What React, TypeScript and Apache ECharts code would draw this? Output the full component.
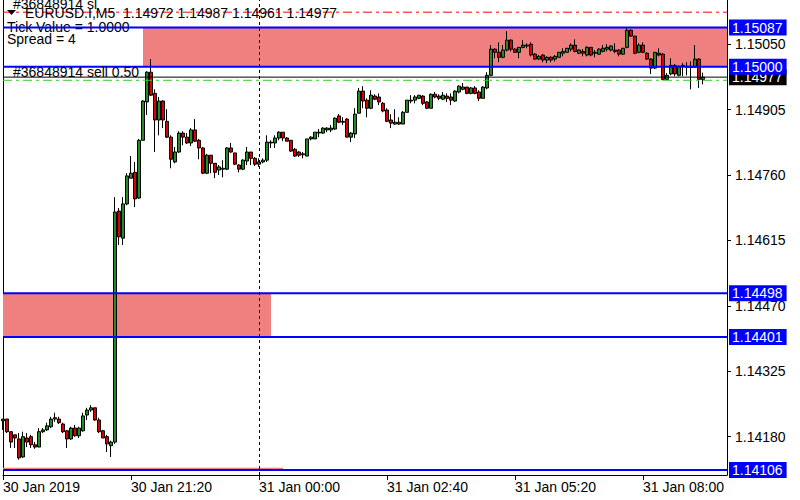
import React, { useEffect, useRef } from "react";
import * as echarts from "echarts";

// ---- data (EURUSD M5, 30 Jan 18:40 .. 31 Jan 09:15) ----
const opens = [
  1.14215,1.14219,1.14191,1.14184,1.14175,1.14135,1.14177,1.14180,1.14162,1.14157,
  1.14191,1.14195,1.14202,1.14219,1.14219,1.14208,1.14193,1.14175,1.14199,1.14182,
  1.14193,1.14228,1.14239,1.14244,1.14217,1.14193,1.14180,1.14160,1.14168,1.14680,
  1.14620,1.14696,1.14753,1.14766,1.14709,1.14837,1.14922,1.14988,1.14941,1.14882,
  1.14924,1.14879,1.14844,1.14789,1.14811,1.14853,1.14844,1.14831,1.14860,1.14837,
  1.14820,1.14764,1.14804,1.14786,1.14771,1.14773,1.14773,1.14820,1.14809,1.14782,
  1.14773,1.14791,1.14811,1.14797,1.14784,1.14789,1.14793,1.14831,1.14831,1.14842,
  1.14855,1.14842,1.14837,1.14817,1.14811,1.14807,1.14802,1.14840,1.14840,1.14853,
  1.14853,1.14860,1.14860,1.14862,1.14891,1.14879,1.14884,1.14844,1.14851,1.14897,
  1.14946,1.14926,1.14908,1.14935,1.14933,1.14919,1.14904,1.14882,1.14873,1.14877,
  1.14873,1.14899,1.14924,1.14926,1.14930,1.14935,1.14922,1.14908,1.14939,1.14935,
  1.14928,1.14935,1.14933,1.14924,1.14944,1.14950,1.14955,1.14941,1.14953,1.14944,
  1.14930,1.14953,1.14981,1.15039,1.15032,1.15021,1.15037,1.15059,1.15039,1.15032,
  1.15043,1.15046,1.15050,1.15028,1.15017,1.15026,1.15015,1.15021,1.15017,1.15021,
  1.15030,1.15032,1.15039,1.15048,1.15030,1.15034,1.15026,1.15043,1.15030,1.15028,
  1.15034,1.15039,1.15037,1.15037,1.15037,1.15028,1.15043,1.15081,1.15068,1.15032,
  1.15048,1.15030,1.15017,1.14997,1.15030,1.15028,1.14972,1.14984,1.15003,1.14981,
  1.15001,1.14999,1.15001,1.14999,1.15017,1.14972,
];
const closes = [
  1.14219,1.14191,1.14168,1.14177,1.14133,1.14180,1.14168,1.14162,1.14157,1.14191,
  1.14195,1.14204,1.14219,1.14222,1.14211,1.14191,1.14175,1.14199,1.14182,1.14199,
  1.14226,1.14239,1.14244,1.14217,1.14191,1.14177,1.14164,1.14168,1.14678,1.14623,
  1.14696,1.14758,1.14764,1.14707,1.14837,1.14924,1.14988,1.14937,1.14882,1.14924,
  1.14882,1.14844,1.14795,1.14811,1.14853,1.14844,1.14831,1.14860,1.14835,1.14820,
  1.14764,1.14804,1.14786,1.14766,1.14778,1.14775,1.14820,1.14811,1.14784,1.14773,
  1.14793,1.14811,1.14797,1.14784,1.14789,1.14793,1.14833,1.14833,1.14842,1.14855,
  1.14842,1.14835,1.14813,1.14802,1.14804,1.14805,1.14840,1.14844,1.14855,1.14855,
  1.14864,1.14864,1.14864,1.14886,1.14877,1.14877,1.14844,1.14853,1.14895,1.14946,
  1.14924,1.14908,1.14937,1.14928,1.14922,1.14902,1.14879,1.14875,1.14877,1.14873,
  1.14899,1.14926,1.14926,1.14933,1.14937,1.14919,1.14908,1.14939,1.14933,1.14930,
  1.14937,1.14930,1.14926,1.14946,1.14957,1.14955,1.14941,1.14953,1.14941,1.14930,
  1.14955,1.14981,1.15039,1.15032,1.15021,1.15037,1.15059,1.15039,1.15032,1.15043,
  1.15048,1.15048,1.15026,1.15017,1.15023,1.15015,1.15021,1.15015,1.15023,1.15032,
  1.15034,1.15041,1.15048,1.15034,1.15037,1.15030,1.15043,1.15026,1.15032,1.15039,
  1.15041,1.15043,1.15046,1.15034,1.15028,1.15041,1.15081,1.15068,1.15030,1.15048,
  1.15032,1.15017,1.14997,1.15032,1.15026,1.14972,1.14981,1.15003,1.14984,1.15001,
  1.15003,1.15001,1.14999,1.15017,1.14972,1.14977,
];
const lows = [
  1.14195,1.14188,1.14155,1.14155,1.14129,1.14133,1.14157,1.14155,1.14153,1.14157,
  1.14188,1.14193,1.14199,1.14213,1.14208,1.14188,1.14155,1.14173,1.14180,1.14177,
  1.14191,1.14217,1.14235,1.14215,1.14188,1.14177,1.14146,1.14135,1.14164,1.14605,
  1.14605,1.14693,1.14753,1.14689,1.14707,1.14837,1.14893,1.14935,1.14811,1.14848,
  1.14864,1.14842,1.14775,1.14786,1.14809,1.14826,1.14829,1.14824,1.14833,1.14795,
  1.14762,1.14762,1.14764,1.14753,1.14760,1.14755,1.14771,1.14809,1.14782,1.14766,
  1.14771,1.14782,1.14782,1.14780,1.14778,1.14786,1.14789,1.14820,1.14820,1.14837,
  1.14835,1.14835,1.14811,1.14800,1.14800,1.14797,1.14802,1.14837,1.14840,1.14844,
  1.14851,1.14855,1.14855,1.14860,1.14875,1.14871,1.14844,1.14833,1.14842,1.14897,
  1.14908,1.14888,1.14906,1.14926,1.14915,1.14899,1.14877,1.14864,1.14871,1.14871,
  1.14873,1.14899,1.14919,1.14919,1.14928,1.14915,1.14906,1.14908,1.14930,1.14926,
  1.14926,1.14922,1.14915,1.14922,1.14941,1.14948,1.14939,1.14939,1.14939,1.14924,
  1.14930,1.14950,1.14979,1.15019,1.15010,1.15019,1.15034,1.15034,1.15032,1.15019,
  1.15041,1.15041,1.15023,1.15015,1.15015,1.15010,1.15008,1.15010,1.15012,1.15021,
  1.15023,1.15032,1.15034,1.15032,1.15028,1.15023,1.15023,1.15023,1.15021,1.15026,
  1.15032,1.15034,1.15034,1.15030,1.15023,1.15026,1.15041,1.15066,1.15028,1.15030,
  1.15030,1.15015,1.14984,1.14995,1.15023,1.14970,1.14970,1.14981,1.14979,1.14979,
  1.14979,1.14981,1.14950,1.14999,1.14953,1.14961,
];
const highs = [
  1.14219,1.14219,1.14191,1.14184,1.14188,1.14191,1.14188,1.14184,1.14168,1.14199,
  1.14199,1.14211,1.14224,1.14233,1.14224,1.14211,1.14195,1.14202,1.14206,1.14202,
  1.14233,1.14244,1.14250,1.14244,1.14222,1.14195,1.14184,1.14171,1.14711,1.14687,
  1.14711,1.14764,1.14802,1.14789,1.14840,1.14926,1.14990,1.15017,1.14950,1.14933,
  1.14926,1.14906,1.14848,1.14822,1.14857,1.14857,1.14853,1.14864,1.14884,1.14840,
  1.14822,1.14807,1.14804,1.14786,1.14782,1.14793,1.14822,1.14831,1.14809,1.14784,
  1.14795,1.14822,1.14811,1.14800,1.14797,1.14797,1.14848,1.14837,1.14848,1.14857,
  1.14855,1.14844,1.14837,1.14820,1.14813,1.14811,1.14840,1.14846,1.14855,1.14862,
  1.14866,1.14866,1.14871,1.14888,1.14895,1.14888,1.14886,1.14855,1.14908,1.14953,
  1.14957,1.14930,1.14948,1.14939,1.14941,1.14922,1.14908,1.14895,1.14906,1.14888,
  1.14902,1.14926,1.14937,1.14937,1.14937,1.14937,1.14924,1.14941,1.14944,1.14939,
  1.14944,1.14941,1.14941,1.14948,1.14959,1.14964,1.14955,1.14955,1.14957,1.14948,
  1.14957,1.14988,1.15048,1.15041,1.15054,1.15048,1.15079,1.15061,1.15041,1.15043,
  1.15059,1.15052,1.15054,1.15030,1.15026,1.15028,1.15023,1.15023,1.15026,1.15032,
  1.15041,1.15041,1.15052,1.15061,1.15039,1.15039,1.15046,1.15043,1.15037,1.15041,
  1.15048,1.15050,1.15048,1.15052,1.15039,1.15041,1.15088,1.15083,1.15068,1.15052,
  1.15054,1.15032,1.15019,1.15032,1.15041,1.15030,1.14986,1.15019,1.15006,1.15003,
  1.15008,1.15010,1.15012,1.15048,1.15019,1.14987,
];

const firstBarMinute = 18 * 60 + 40; // 30 Jan 18:40
const slotCount = 182;
const categories = Array.from({ length: slotCount }, (_, i) => {
  const m = firstBarMinute + 5 * i;
  const day = 30 + Math.floor(m / 1440);
  const mm = m % 1440;
  return `${day} Jan ${String(Math.floor(mm / 60)).padStart(2, "0")}:${String(mm % 60).padStart(2, "0")}`;
});

const xTickIndices = [0, 32, 64, 96, 128, 160];
const xTickLabels = ["30 Jan 2019", "30 Jan 21:20", "31 Jan 00:00", "31 Jan 02:40", "31 Jan 05:20", "31 Jan 08:00"];
const yTickValues = [1.1418, 1.14325, 1.1447, 1.14615, 1.1476, 1.14905, 1.1505];

const blueLevels = [1.15087, 1.15, 1.14498, 1.14401, 1.14106];
const bidPrice = 1.14977;
const orderPrice = 1.1497;
const stopLoss = 1.15121;
const verticalLineIndex = 64;
const zoneFrom = [35, 0, 0];
const zoneTo = [181, 67, 70];
const zoneLow = [1.15, 1.14401, 1.14106];
const zoneHigh = [1.15087, 1.14498, 1.14111];

const headerText = "EURUSD.I,M5  1.14972 1.14987 1.14961 1.14977";
const tickValueText = "Tick Value = 1.0000";
const spreadText = "Spread = 4";
const orderLabel = "#36848914 sell 0.50";
const slLabel = "#36848914 sl";

const FONT = "'Liberation Sans', Arial, sans-serif";
const Y_MIN = 1.14095;
const Y_MAX = 1.15148;

export default function App() {
  const ref = useRef<HTMLDivElement>(null);
  useEffect(() => {
    if (!ref.current) return;
    const chart = echarts.init(ref.current, null, { renderer: "svg" });
    const candles = opens.map((o, i) => [o, closes[i], lows[i], highs[i]]);
    const dashDot = [9, 4, 3, 4];
    const first = categories[0];
    const last = categories[slotCount - 1];

    const level = (v: number, color: string, width: number, type: any, endBg?: string) => ({
      type: "line",
      silent: true,
      symbol: "none",
      clip: false,
      z: 5,
      data: [
        [first, v],
        [last, v],
      ],
      lineStyle: { color, width, type },
      label: { show: false },
      endLabel: endBg
        ? {
            show: true,
            distance: 2,
            formatter: v.toFixed(5),
            backgroundColor: endBg,
            color: "#fff",
            padding: [1, 4, 1, 3],
            fontSize: 14,
            fontFamily: FONT,
          }
        : { show: false },
      emphasis: { disabled: true },
    });

    const baseGraphic: any[] = [
      {
        id: "tri",
        type: "polygon",
        shape: { points: [[7, 10], [16, 10], [11.5, 15]] },
        style: { fill: "#000" },
        z: 10,
      },
      {
        id: "hdr",
        type: "text",
        x: 25,
        y: 13,
        style: { text: headerText, fill: "#000", font: `14px ${FONT}`, verticalAlign: "middle" },
        z: 10,
      },
      {
        id: "tick",
        type: "text",
        x: 7,
        y: 27,
        style: { text: tickValueText, fill: "#000", font: `14px ${FONT}`, verticalAlign: "middle" },
        z: 1,
      },
      {
        id: "spread",
        type: "text",
        x: 7,
        y: 39,
        style: { text: spreadText, fill: "#000", font: `14px ${FONT}`, verticalAlign: "middle" },
        z: 1,
      },
    ];

    const option: any = {
      animation: false,
      backgroundColor: "#fff",
      textStyle: { fontFamily: FONT },
      grid: { left: 3, right: 73, top: 0, bottom: 25 },
      xAxis: {
        type: "category",
        data: categories,
        boundaryGap: false,
        axisLine: { onZero: false, lineStyle: { color: "#000", width: 1 } },
        axisTick: {
          interval: (i: number) => xTickIndices.includes(i),
          length: 5,
          lineStyle: { color: "#000" },
        },
        axisLabel: {
          interval: (i: number) => xTickIndices.includes(i),
          formatter: (_v: string, i: number) => {
            const k = xTickIndices.indexOf(i);
            return k >= 0 ? xTickLabels[k] : "";
          },
          align: "left",
          margin: 5,
          color: "#000",
          fontSize: 14,
          fontFamily: FONT,
        },
        splitLine: { show: false },
      },
      yAxis: [
        {
          type: "value",
          position: "right",
          min: Y_MIN,
          max: Y_MAX,
          axisLine: { show: true, lineStyle: { color: "#000" } },
          axisTick: { show: true, customValues: yTickValues, length: 4, lineStyle: { color: "#000" } },
          axisLabel: {
            customValues: yTickValues,
            formatter: (v: number) => v.toFixed(5),
            color: "#000",
            fontSize: 14,
            fontFamily: FONT,
            margin: 8,
          },
          splitLine: { show: false },
        },
        {
          type: "value",
          position: "left",
          min: Y_MIN,
          max: Y_MAX,
          axisLine: { show: true, lineStyle: { color: "#000" } },
          axisTick: { show: false },
          axisLabel: { show: false },
          splitLine: { show: false },
        },
      ],
      graphic: baseGraphic,
      series: [
        {
          type: "candlestick",
          z: 3,
          barWidth: 3,
          data: candles,
          itemStyle: {
            color: "#228B22",
            color0: "#DC0000",
            borderColor: "#000",
            borderColor0: "#000",
            borderWidth: 1,
          },
          markArea: {
            silent: true,
            itemStyle: { color: "#F08080", opacity: 1 },
            data: zoneFrom.map((f, i) => [
              { xAxis: categories[f], yAxis: zoneHigh[i] },
              { xAxis: categories[zoneTo[i]], yAxis: zoneLow[i] },
            ]),
          },
          markLine: {
            silent: true,
            symbol: ["none", "none"],
            data: [
              {
                xAxis: categories[verticalLineIndex],
                lineStyle: { color: "#000", type: [3, 3], width: 1 },
                label: { show: false },
              },
            ],
          },
        },
        level(orderPrice, "#32CD32", 1, dashDot),
        level(stopLoss, "#FF0000", 1, dashDot),
        level(bidPrice, "#000", 1, "solid", "#000"),
        ...blueLevels.map((v) => level(v, "#0000FF", 2, "solid", "#0000FF")),
      ],
    };
    chart.setOption(option);

    // trade labels anchored to their price levels through the y axis scale
    const xStart = chart.convertToPixel({ xAxisIndex: 0 }, first) as number;
    const yOrder = chart.convertToPixel({ yAxisIndex: 0 }, orderPrice) as number;
    const ySl = chart.convertToPixel({ yAxisIndex: 0 }, stopLoss) as number;
    chart.setOption({
      graphic: [
        ...baseGraphic,
        {
          id: "orderLbl",
          type: "text",
          x: xStart + 10,
          y: yOrder - 1,
          style: { text: orderLabel, fill: "#000", font: `14px ${FONT}`, verticalAlign: "bottom" },
          z: 10,
        },
        {
          id: "slLbl",
          type: "text",
          x: xStart + 10,
          y: ySl - 1,
          style: { text: slLabel, fill: "#000", font: `14px ${FONT}`, verticalAlign: "bottom" },
          z: 9,
        },
      ],
    });
    return () => chart.dispose();
  }, []);
  return (
    <div
      ref={ref}
      style={{ position: "fixed", left: 0, top: 0, width: 800, height: 500, background: "#fff" }}
    />
  );
}
